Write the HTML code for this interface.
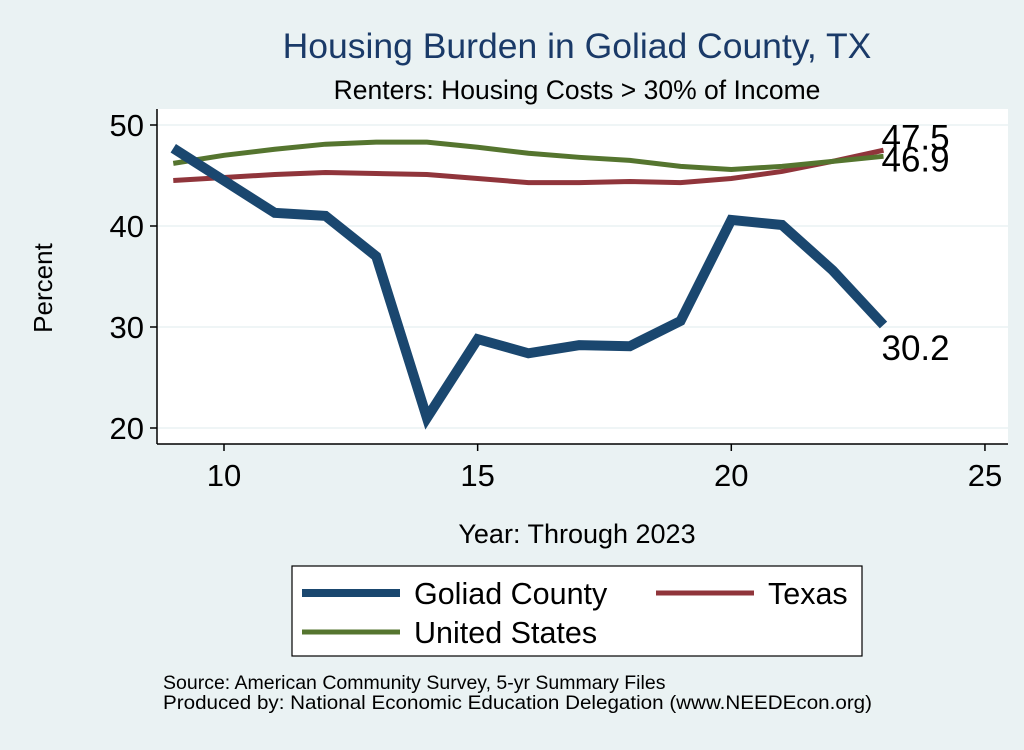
<!DOCTYPE html>
<html><head><meta charset="utf-8"><style>
body{margin:0;background:#eaf2f3;font-family:"Liberation Sans",sans-serif}
svg text{font-family:"Liberation Sans",sans-serif}
</style></head><body>
<svg width="1024" height="745" viewBox="0 0 1024 745">
<rect width="1024" height="745" fill="#eaf2f3"/>
<text x="577" y="58" font-size="35.5" fill="#1a3a68" text-anchor="middle">Housing Burden in Goliad County, TX</text>
<text x="577" y="99" font-size="26.5" fill="#000" text-anchor="middle">Renters: Housing Costs &gt; 30% of Income</text>
<rect x="157" y="109" width="851" height="335" fill="#fff"/>
<g id="grid"></g>
<line x1="157" y1="109" x2="157" y2="444" stroke="#000" stroke-width="1.5"/>
<line x1="157" y1="444" x2="1008" y2="444" stroke="#000" stroke-width="1.5"/>
<g id="axes"></g>
<g id="series"></g>
<text x="52" y="288" font-size="26" text-anchor="middle" transform="rotate(-90 52 288)">Percent</text>
<text x="577" y="543" font-size="27" text-anchor="middle">Year: Through 2023</text>
<g>
<rect x="292" y="566" width="570" height="90" fill="#fff" stroke="#000" stroke-width="1.2"/>
<line x1="302" y1="593" x2="400" y2="593" stroke="#1a476f" stroke-width="8"/>
<text x="414" y="604" font-size="30.5">Goliad County</text>
<line x1="656" y1="593" x2="754" y2="593" stroke="#90353b" stroke-width="5"/>
<text x="768" y="604" font-size="30.5">Texas</text>
<line x1="302" y1="632" x2="400" y2="632" stroke="#55752f" stroke-width="5"/>
<text x="414" y="643" font-size="30.5">United States</text>
</g>
<text x="163" y="689" font-size="19.5">Source: American Community Survey, 5-yr Summary Files</text>
<text x="163" y="709" font-size="19.5" textLength="709" lengthAdjust="spacingAndGlyphs">Produced by: National Economic Education Delegation (www.NEEDEcon.org)</text>
</svg>
<script>
const years=[9,10,11,12,13,14,15,16,17,18,19,20,21,22,23];
const goliad=[47.7,44.5,41.3,41.0,37.0,21.0,28.8,27.4,28.2,28.1,30.6,40.6,40.1,35.6,30.2];
const texas=[44.5,44.8,45.1,45.3,45.2,45.1,44.7,44.3,44.3,44.4,44.3,44.7,45.4,46.4,47.5];
const us=[46.2,47.0,47.6,48.1,48.3,48.3,47.8,47.2,46.8,46.5,45.9,45.6,45.9,46.4,46.9];
const xTicks=[10,15,20,25];
const yTicks=[20,30,40,50];
const NS="http://www.w3.org/2000/svg";
const xs=v=>224+(v-10)*50.73;
const ys=v=>428-(v-20)*10.1;
function mk(t,a,p){const e=document.createElementNS(NS,t);for(const k in a)e.setAttribute(k,a[k]);p.appendChild(e);return e;}
const grid=document.getElementById('grid'),axes=document.getElementById('axes'),ser=document.getElementById('series');
yTicks.forEach(v=>{
 const g=mk('line',{x1:157,x2:1008,y1:ys(v),y2:ys(v),stroke:'#eaf2f3','stroke-width':1.5},grid);
 
 
 mk('line',{x1:150,x2:157,y1:ys(v),y2:ys(v),stroke:'#000','stroke-width':1.5},axes);
 const t=mk('text',{x:144,y:ys(v)+11,'font-size':31,'text-anchor':'end'},axes);t.textContent=v;
 
 
});
xTicks.forEach(v=>{
 mk('line',{x1:xs(v),x2:xs(v),y1:444,y2:451,stroke:'#000','stroke-width':1.5},axes);
 const t=mk('text',{x:xs(v),y:486,'font-size':31,'text-anchor':'middle'},axes);t.textContent=v;
 
 
});
function line(data,color,w,name){
 const p=mk('polyline',{points:data.map((v,i)=>xs(years[i])+','+ys(v)).join(' '),fill:'none',stroke:color,'stroke-width':w,'stroke-linejoin':'miter'},ser);
 
 
}
line(texas,'#90353b',5,'texas-line');
line(us,'#55752f',5,'us-line');
line(goliad,'#1a476f',10,'goliad-line');
const n=years.length-1;
function lab(v,dy,name){
 const t=mk('text',{x:xs(years[n])-2,y:ys(v)+dy,'font-size':35},ser);t.textContent=v.toFixed(1);
 
 
}
lab(texas[n],-1,'texas-end-label');
lab(us[n],15,'us-end-label');
lab(goliad[n],35,'goliad-end-label');
</script>
</body></html>
